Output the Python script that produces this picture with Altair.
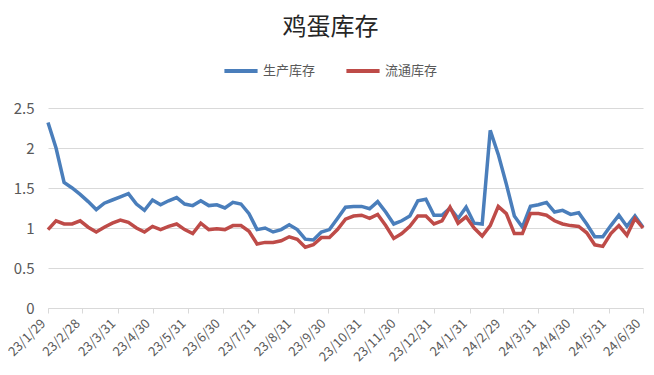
import altair as alt
import pandas as pd

dates = [
    "2023-01-29", "2023-02-05", "2023-02-12", "2023-02-19", "2023-02-26",
    "2023-03-05", "2023-03-12", "2023-03-19", "2023-03-26", "2023-04-02",
    "2023-04-09", "2023-04-16", "2023-04-23", "2023-04-30", "2023-05-07",
    "2023-05-14", "2023-05-21", "2023-05-28", "2023-06-04", "2023-06-11",
    "2023-06-18", "2023-06-25", "2023-07-02", "2023-07-09", "2023-07-16",
    "2023-07-23", "2023-07-30", "2023-08-06", "2023-08-13", "2023-08-20",
    "2023-08-27", "2023-09-03", "2023-09-10", "2023-09-17", "2023-09-24",
    "2023-10-01", "2023-10-08", "2023-10-15", "2023-10-22", "2023-10-29",
    "2023-11-05", "2023-11-12", "2023-11-19", "2023-11-26", "2023-12-03",
    "2023-12-10", "2023-12-17", "2023-12-24", "2023-12-31", "2024-01-07",
    "2024-01-14", "2024-01-21", "2024-01-28", "2024-02-04", "2024-02-11",
    "2024-02-18", "2024-02-25", "2024-03-03", "2024-03-10", "2024-03-17",
    "2024-03-24", "2024-03-31", "2024-04-07", "2024-04-14", "2024-04-21",
    "2024-04-28", "2024-05-05", "2024-05-12", "2024-05-19", "2024-05-26",
    "2024-06-02", "2024-06-09", "2024-06-16", "2024-06-23", "2024-06-30",
]

production = [
    2.32, 2.0, 1.57, 1.5, 1.42, 1.33, 1.23, 1.31, 1.35, 1.39, 1.43, 1.3, 1.22,
    1.35, 1.29, 1.34, 1.38, 1.3, 1.28, 1.34, 1.28, 1.29,
    1.25, 1.32, 1.30, 1.18, 0.98, 1.0, 0.95, 0.98, 1.04, 0.98, 0.86, 0.85,
    0.95, 0.98, 1.12, 1.26, 1.27, 1.27, 1.24, 1.33, 1.2, 1.05, 1.09, 1.15,
    1.34, 1.36, 1.16, 1.16, 1.25, 1.12, 1.26, 1.06, 1.05, 2.22, 1.92, 1.55,
    1.15, 1.01, 1.27, 1.29, 1.32, 1.2, 1.22, 1.17, 1.19, 1.05, 0.89, 0.89,
    1.03, 1.16, 1.02, 1.15, 1.01,
]

circulation = [
    0.98, 1.09, 1.05, 1.05, 1.09, 1.01, 0.95, 1.01, 1.06, 1.1, 1.07, 1.0, 0.95,
    1.02, 0.98, 1.02, 1.05, 0.98, 0.93, 1.06, 0.98, 0.99,
    0.98, 1.03, 1.03, 0.96, 0.8, 0.82, 0.82, 0.84, 0.89, 0.86, 0.76, 0.79,
    0.88, 0.88, 0.98, 1.11, 1.15, 1.16, 1.12, 1.17, 1.03, 0.87, 0.93, 1.02,
    1.15, 1.15, 1.05, 1.09, 1.26, 1.06, 1.14, 1.0, 0.9, 1.03, 1.27, 1.18,
    0.93, 0.93, 1.18, 1.18, 1.16, 1.09, 1.05, 1.03, 1.02, 0.94, 0.79, 0.77,
    0.93, 1.03, 0.91, 1.12, 1.0,
]

series_names = ["生产库存", "流通库存"]
series_colors = ["#4A7EBB", "#BE4B48"]

tick_dates = [
    "2023-01-29", "2023-02-28", "2023-03-31", "2023-04-30", "2023-05-31",
    "2023-06-30", "2023-07-31", "2023-08-31", "2023-09-30", "2023-10-31",
    "2023-11-30", "2023-12-31", "2024-01-31", "2024-02-29", "2024-03-31",
    "2024-04-30", "2024-05-31", "2024-06-30",
]
y_ticks = [0, 0.5, 1, 1.5, 2, 2.5]

df = pd.DataFrame({
    "date": dates * 2,
    "value": production + circulation,
    "series": [series_names[0]] * len(dates) + [series_names[1]] * len(dates),
})

tick_ms = [int(pd.Timestamp(d, tz="UTC").value // 10**6) for d in tick_dates]
dom_ms = [tick_ms[0], tick_ms[-1]]

FONT = "Noto Sans CJK SC"
GRAY = "#595959"

chart = (
    alt.Chart(df)
    .mark_line(strokeWidth=3.5)
    .encode(
        x=alt.X(
            "date:T",
            scale=alt.Scale(type="utc", domain=dom_ms, nice=False),
            axis=alt.Axis(
                values=tick_ms,
                labelExpr="utcFormat(datum.value, '%y/%-m/%-d')",
                labelAngle=-45,
                labelAlign="right",
                labelBaseline="bottom",
                labelFontSize=13,
                labelColor=GRAY,
                labelFont=FONT,
                labelPadding=13,
                labelOverlap=False,
                labelBound=False,
                labelFlush=False,
                grid=False,
                domainColor="#D9D9D9",
                tickColor="#D9D9D9",
                tickSize=5,
                title=None,
            ),
        ),
        y=alt.Y(
            "value:Q",
            scale=alt.Scale(domain=[0, 2.5], nice=False),
            axis=alt.Axis(
                values=y_ticks,
                format="~g",
                labelFontSize=15,
                labelColor=GRAY,
                labelFont=FONT,
                labelPadding=14,
                domain=False,
                ticks=False,
                gridColor="#D9D9D9",
                title=None,
            ),
        ),
        color=alt.Color(
            "series:N",
            scale=alt.Scale(domain=series_names, range=series_colors),
            sort=series_names,
            legend=alt.Legend(
                title=None,
                orient="none",
                direction="horizontal",
                legendX=174,
                legendY=-56,
                symbolType="stroke",
                symbolSize=1100,
                symbolStrokeWidth=4,
                labelFontSize=13,
                labelColor=GRAY,
                labelFont=FONT,
                columnPadding=22,
                labelOffset=3,
            ),
        ),
    )
    .properties(
        width=595,
        height=200,
        padding={"left": 40, "top": 100, "right": 3, "bottom": 59},
        autosize=alt.AutoSizeParams(type="none"),
        title=alt.TitleParams(
            "鸡蛋库存",
            font=FONT,
            fontSize=24,
            fontWeight="normal",
            color="#262626",
            anchor="middle",
            dx=-15,
            dy=-8,
        ),
    )
    .configure_view(stroke=None)
)

chart.save("out.html", embed_options={"renderer": "svg", "actions": False})
